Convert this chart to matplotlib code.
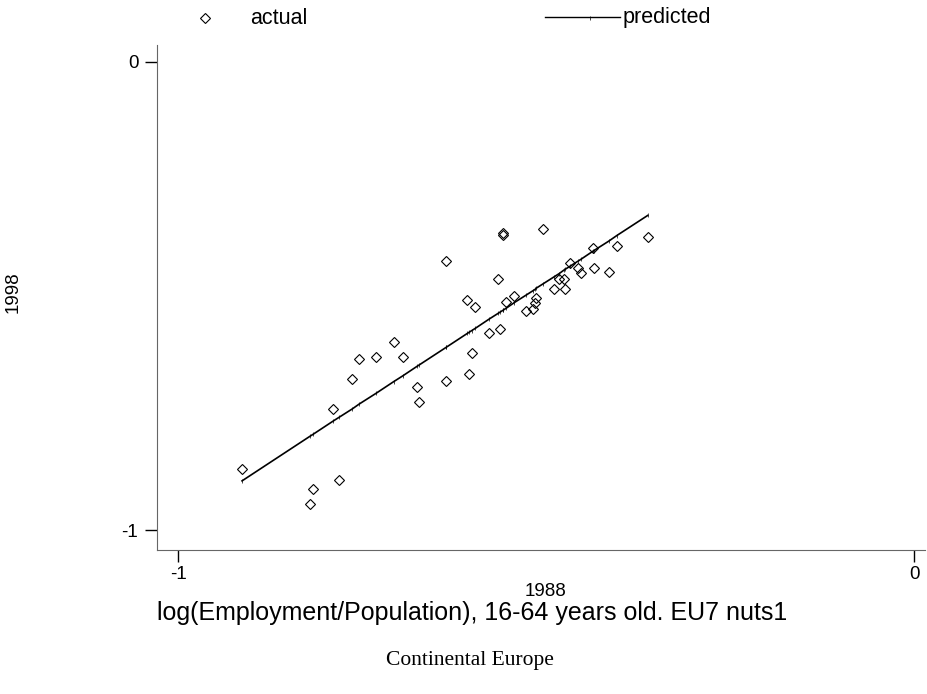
import matplotlib.pyplot as plt
from matplotlib.lines import Line2D

# log(Employment/Population), 16-64 years old, EU7 nuts1 regions
emp_1988 = [-0.913, -0.821, -0.816, -0.789, -0.781, -0.763, -0.754, -0.731,
            -0.707, -0.695, -0.675, -0.672, -0.636, -0.636, -0.607, -0.604,
            -0.601, -0.596, -0.577, -0.565, -0.563, -0.559, -0.558, -0.554,
            -0.543, -0.527, -0.518, -0.515, -0.513, -0.504, -0.489, -0.482,
            -0.476, -0.474, -0.468, -0.457, -0.453, -0.436, -0.435, -0.415,
            -0.404, -0.362]
emp_1998 = [-0.870, -0.945, -0.912, -0.741, -0.893, -0.677, -0.635, -0.630,
            -0.598, -0.630, -0.694, -0.727, -0.682, -0.426, -0.509, -0.667,
            -0.621, -0.523, -0.580, -0.464, -0.570, -0.366, -0.369, -0.513,
            -0.501, -0.532, -0.528, -0.516, -0.504, -0.357, -0.486, -0.464,
            -0.463, -0.486, -0.429, -0.440, -0.450, -0.397, -0.440, -0.449,
            -0.394, -0.375]
pred_1998 = [-0.895, -0.800, -0.795, -0.767, -0.759, -0.741, -0.731, -0.708,
             -0.683, -0.671, -0.650, -0.647, -0.610, -0.610, -0.580, -0.577,
             -0.574, -0.569, -0.549, -0.537, -0.535, -0.531, -0.530, -0.526,
             -0.514, -0.498, -0.489, -0.486, -0.483, -0.474, -0.459, -0.452,
             -0.445, -0.443, -0.437, -0.426, -0.422, -0.404, -0.403, -0.383,
             -0.371, -0.328]

plt.rcParams['font.family'] = 'Liberation Sans'

fig = plt.figure(figsize=(9.27, 6.94), dpi=100)
ax = fig.add_axes([0.1694, 0.2075, 0.8285, 0.7277])

ax.plot(emp_1988, pred_1998, color='black', lw=1.2, marker='|', ms=2.5, mew=0.5)
ax.plot(emp_1988, emp_1998, ls='none', marker='D', ms=5.2, mfc='none',
        mec='black', mew=0.8)

ax.set_xlim(-1.0285, 0.0149)
ax.set_ylim(-1.0427, 0.0363)
ax.set_xticks([-1, 0])
ax.set_xticklabels(['-1', '0'])
ax.set_yticks([-1, 0])
ax.set_yticklabels(['-1', '0'])
ax.tick_params(length=8.5, width=1, labelsize=13.5)
ax.tick_params(axis='y', pad=5)
ax.tick_params(axis='x', pad=3)

for s in ['top', 'right']:
    ax.spines[s].set_visible(False)
for s in ['left', 'bottom']:
    ax.spines[s].set_color('#666666')

# axis labels
fig.text(546 / 927, 1 - 591 / 694, '1988', fontsize=13.5,
         ha='center', va='center')
fig.text(13 / 927, 1 - 292 / 694, '1998', rotation=90, fontsize=13.5,
         ha='center', va='center')

# legend drawn by hand, Stata style
fig.add_artist(Line2D([205 / 927], [1 - 18 / 694], marker='D', ms=5.2,
                      mfc='none', mec='black', mew=0.8))
fig.text(250 / 927, 1 - 18 / 694, 'actual', fontsize=15.5, va='center')
fig.add_artist(Line2D([545 / 927, 620 / 927], [1 - 17 / 694] * 2,
                      color='black', lw=1))
fig.add_artist(Line2D([590 / 927], [1 - 18 / 694], marker='|', ms=2.5,
                      mew=0.5, color='black'))
fig.text(623 / 927, 1 - 18 / 694, 'predicted', fontsize=15.5, va='center')

fig.text(472 / 927, 1 - 613 / 694,
         'log(Employment/Population), 16-64 years old. EU7 nuts1',
         fontsize=18, ha='center', va='center')
fig.text(470 / 927, 1 - 660 / 694, 'Continental Europe', fontsize=15.5,
         family='Liberation Serif', ha='center', va='center')

plt.savefig('out.png', dpi=100)
